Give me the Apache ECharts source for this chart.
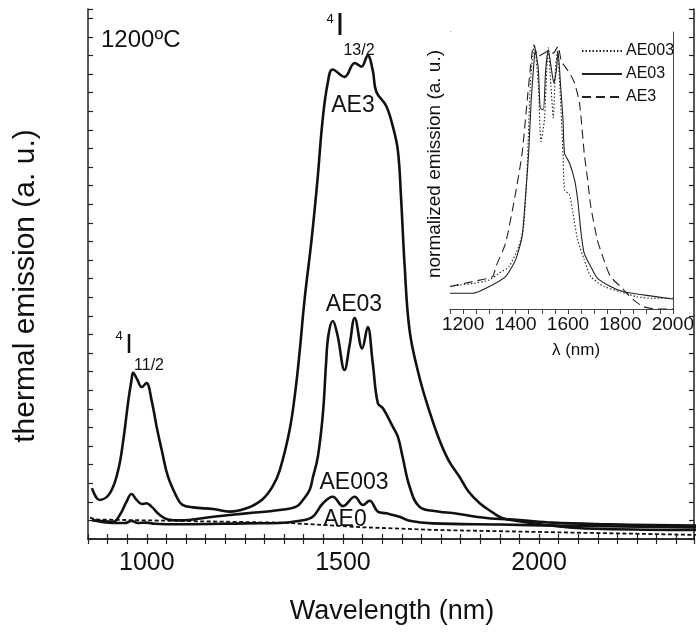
<!DOCTYPE html>
<html>
<head>
<meta charset="utf-8">
<script src="https://cdn.jsdelivr.net/npm/echarts@6/dist/echarts.min.js"></script>
<style>html,body{margin:0;padding:0;background:#fff;}#c{width:697px;height:637px;}</style>
</head>
<body>
<div id="c"></div>
<script>
// ---------- main chart data (wavelength nm, thermal emission a.u.) ----------
const ae3Wl  = [860,880,906,927,940,953,961,965,975,987,999,1012,1025,1038,1054,1076,1090,1118,1169,1211,1254,1293,1320,1339,1364,1379,1390,1402,1420,1435,1448,1461,1474,1504,1530,1547,1563,1576,1585,1610,1627,1640,1648,1657,1670,1695,1720,1746,1770,1797,1820,1848,1880,1906,1950,2000,2077,2161,2400];
const ae3Val = [2.74,2.10,2.47,3.71,5.32,7.47,8.55,8.94,8.60,8.17,8.39,7.47,6.04,4.78,3.35,2.27,1.85,1.70,1.61,1.47,1.65,2.10,2.80,3.71,5.86,8.01,10.16,12.85,16.1,19.3,22.5,24.5,25.25,24.85,25.6,25.4,26.0,25.2,24.05,23.3,22.2,20.9,18.4,14.8,11.2,8.7,6.9,5.32,4.2,3.35,2.55,1.94,1.45,1.13,0.95,0.80,0.62,0.54,0.48];

const ae03Wl  = [860,914,931,948,961,974,987,999,1012,1033,1054,1084,1169,1254,1339,1381,1398,1415,1423,1436,1449,1457,1463,1474,1486,1504,1517,1530,1549,1563,1576,1589,1602,1627,1640,1652,1670,1695,1746,1779,1866,1950,2034,2153,2400];
const ae03Val = [1.02,0.93,1.29,2.00,2.42,2.10,1.88,1.92,1.74,1.29,1.05,1.00,1.20,1.38,1.56,1.74,2.10,2.63,3.28,4.42,6.77,9.46,10.97,11.72,10.97,9.09,10.43,11.88,10.25,11.40,9.45,7.30,7.03,6.04,5.50,4.42,2.81,1.74,1.47,1.40,1.13,1.02,0.88,0.80,0.72];

const ae003Wl  = [860,914,944,961,977,999,1020,1084,1254,1339,1390,1423,1449,1474,1500,1530,1551,1568,1589,1610,1644,1670,1729,1899,2051,2400];
const ae003Val = [1.02,0.86,0.86,0.97,0.86,0.88,0.82,0.79,0.84,0.86,0.98,1.20,1.92,2.27,1.77,2.27,1.83,2.06,1.47,1.38,1.20,0.98,0.84,0.78,0.72,0.62];

const ae0Wl  = [855,870,1084,1339,1423,1550,1746,2000,2400];
const ae0Val = [1.15,1.05,0.97,0.88,0.79,0.63,0.48,0.38,0.22];

// ---------- inset data (normalized emission) ----------
const inAe003Wl  = [1150,1187,1237,1300,1337,1375,1412,1431,1444,1456,1465,1472,1487,1497,1510,1519,1525,1535,1544,1552,1560,1569,1581,1587,1606,1619,1637,1662,1687,1737,1800,1862,1925,2000];
const inAe003Val = [0.086,0.092,0.098,0.111,0.137,0.162,0.239,0.316,0.533,0.852,0.967,1.011,0.852,0.641,0.724,0.916,1.0,0.852,0.731,0.916,0.987,0.852,0.596,0.456,0.437,0.367,0.264,0.188,0.124,0.086,0.066,0.047,0.041,0.041];

const inAe03Wl  = [1150,1237,1287,1362,1400,1425,1437,1450,1459,1469,1475,1487,1494,1506,1515,1525,1537,1546,1556,1562,1572,1581,1587,1606,1625,1637,1650,1662,1687,1712,1762,1812,1887,2000];
const inAe03Val = [0.060,0.060,0.079,0.124,0.188,0.277,0.418,0.596,0.788,0.928,0.992,0.916,0.769,0.762,0.916,0.992,0.916,0.865,0.916,0.987,0.852,0.724,0.596,0.558,0.494,0.418,0.290,0.213,0.162,0.118,0.086,0.066,0.054,0.038];

const inAe3Wl  = [1150,1237,1312,1325,1362,1400,1425,1447,1456,1469,1487,1525,1544,1562,1575,1606,1625,1644,1662,1675,1687,1712,1737,1762,1800,1850,1887,1937,2000];
const inAe3Val = [0.086,0.105,0.124,0.162,0.252,0.443,0.596,0.826,0.916,1.011,0.967,0.987,0.979,1.005,0.948,0.903,0.865,0.788,0.596,0.494,0.392,0.264,0.188,0.124,0.086,0.035,0.009,0.0,0.0];

// ---------- axis tick label sets ----------
const mainTickLabels  = [1000, 1500, 2000];
const insetTickLabels = [1200, 1400, 1600, 1800, 2000];

const zip = (xs, ys) => xs.map((x, i) => [x, ys[i]]);
const FONT = "'Liberation Sans', Arial, Helvetica, sans-serif";
const INK = '#111';

const chart = echarts.init(document.getElementById('c'), null, {renderer: 'canvas'});

const frame = {show: true, lineStyle: {color: '#222', width: 1.5}};
const tickIn = {show: true, inside: true, length: 5, lineStyle: {color: '#222', width: 1.2}};
const insetFrame = {show: true, lineStyle: {color: '#444', width: 1}};
const insetTick = {show: true, inside: true, length: 5, lineStyle: {color: '#444', width: 1}};

const mainLine = (name, wl, val, extra) => Object.assign({
  name, type: 'line', xAxisIndex: 0, yAxisIndex: 0, data: zip(wl, val),
  symbol: 'none', smooth: 0.4, z: 3,
  lineStyle: {color: INK, width: 2.6}
}, extra || {});

const insetLine = (name, wl, val, type) => ({
  name, type: 'line', xAxisIndex: 2, yAxisIndex: 2, data: zip(wl, val),
  symbol: 'none', smooth: 0.2, z: 4,
  itemStyle: {color: '#222'},
  lineStyle: {color: '#222', width: 1.1, type}
});

const option = {
  animation: false,
  backgroundColor: '#fff',
  grid: [
    {left: 88, top: 9, width: 607, height: 530, show: false},
    {left: 450, top: 32, width: 226, height: 277, show: true, backgroundColor: '#fff', borderWidth: 0, z: 1}
  ],
  xAxis: [
    {gridIndex: 0, type: 'value', min: 850, max: 2395, interval: 50,
     axisLine: frame, axisTick: tickIn, splitLine: {show: false},
     axisLabel: {margin: 12, fontSize: 25, color: INK, fontFamily: FONT,
       formatter: v => mainTickLabels.includes(v) ? String(v) : ''}},
    {gridIndex: 0, type: 'value', position: 'top', min: 850, max: 2395, interval: 50,
     axisLine: frame, axisTick: tickIn, splitLine: {show: false}, axisLabel: {show: false}},
    {gridIndex: 1, type: 'value', min: 1150, max: 2000, interval: 50,
     axisLine: insetFrame, axisTick: insetTick, splitLine: {show: false},
     axisLabel: {margin: 6, fontSize: 19, color: INK, fontFamily: FONT,
       formatter: v => insetTickLabels.includes(v) ? String(v) : ''}},
    {gridIndex: 1, type: 'value', position: 'top', min: 1150, max: 2000, interval: 50,
     axisLine: insetFrame, axisTick: insetTick, splitLine: {show: false}, axisLabel: {show: false}}
  ],
  yAxis: [
    {gridIndex: 0, type: 'value', min: 0, max: 28.5, interval: 1,
     axisLine: frame, axisTick: tickIn, axisLabel: {show: false}, splitLine: {show: false}},
    {gridIndex: 0, type: 'value', position: 'right', min: 0, max: 28.5, interval: 1,
     axisLine: frame, axisTick: tickIn, axisLabel: {show: false}, splitLine: {show: false}},
    {gridIndex: 1, type: 'value', min: 0, max: 1.06,
     axisLine: insetFrame, axisTick: {show: false}, axisLabel: {show: false}, splitLine: {show: false}},
    {gridIndex: 1, type: 'value', position: 'right', min: 0, max: 1.06,
     axisLine: insetFrame, axisTick: {show: false}, axisLabel: {show: false}, splitLine: {show: false}}
  ],
  legend: {
    data: ['AE003', 'AE03', 'AE3'], orient: 'vertical', left: 576, top: 38,
    itemWidth: 40, itemHeight: 14, itemGap: 7, selectedMode: false,
    itemStyle: {opacity: 0},
    textStyle: {fontSize: 16, color: INK, fontFamily: FONT, padding: [0, 0, 0, -1]}
  },
  series: [
    mainLine('AE3 main', ae3Wl, ae3Val),
    mainLine('AE03 main', ae03Wl, ae03Val),
    mainLine('AE003 main', ae003Wl, ae003Val),
    mainLine('AE0 main', ae0Wl, ae0Val, {smooth: false, lineStyle: {color: INK, width: 1.8, type: [4, 2.5]}}),
    insetLine('AE003', inAe003Wl, inAe003Val, [1.5, 2]),
    insetLine('AE03', inAe03Wl, inAe03Val, 'solid'),
    insetLine('AE3', inAe3Wl, inAe3Val, [9, 5])
  ],
  graphic: [
    {type: 'text', x: 392, y: 612, style: {text: 'Wavelength (nm)', fontSize: 27, fontFamily: FONT, fill: INK, align: 'center', verticalAlign: 'middle'}},
    {type: 'text', x: 26, y: 286, rotation: Math.PI / 2, style: {text: 'thermal emission (a. u.)', fontSize: 30, fontFamily: FONT, fill: INK, align: 'center', verticalAlign: 'middle'}},
    {type: 'text', x: 435, y: 164, rotation: Math.PI / 2, z: 10, style: {text: 'normalized emission (a. u.)', fontSize: 19, fontFamily: FONT, fill: INK, align: 'center', verticalAlign: 'middle'}},
    {type: 'text', x: 576, y: 350, style: {text: 'λ (nm)', fontSize: 17, fontFamily: FONT, fill: INK, align: 'center', verticalAlign: 'middle'}},
    {type: 'text', x: 101, y: 40, style: {text: '1200ºC', fontSize: 24, fontFamily: FONT, fill: INK, align: 'left', verticalAlign: 'middle'}},
    {type: 'text', x: 353, y: 106, style: {text: 'AE3', fontSize: 23, fontFamily: FONT, fill: INK, align: 'center', verticalAlign: 'middle'}},
    {type: 'text', x: 354, y: 305, style: {text: 'AE03', fontSize: 23, fontFamily: FONT, fill: INK, align: 'center', verticalAlign: 'middle'}},
    {type: 'text', x: 354, y: 483, style: {text: 'AE003', fontSize: 23, fontFamily: FONT, fill: INK, align: 'center', verticalAlign: 'middle'}},
    {type: 'text', x: 345, y: 520, style: {text: 'AE0', fontSize: 23, fontFamily: FONT, fill: INK, align: 'center', verticalAlign: 'middle'}},
    {type: 'text', x: 330, y: 19, style: {text: '4', fontSize: 13, fontFamily: FONT, fill: INK, align: 'center', verticalAlign: 'middle'}},
    {type: 'text', x: 340, y: 26, style: {text: 'I', fontSize: 32, fontFamily: FONT, fill: INK, align: 'center', verticalAlign: 'middle'}},
    {type: 'text', x: 359, y: 51, style: {text: '13/2', fontSize: 16, fontFamily: FONT, fill: INK, align: 'center', verticalAlign: 'middle'}},
    {type: 'text', x: 119, y: 336, style: {text: '4', fontSize: 13, fontFamily: FONT, fill: INK, align: 'center', verticalAlign: 'middle'}},
    {type: 'text', x: 129, y: 346, style: {text: 'I', fontSize: 27, fontFamily: FONT, fill: INK, align: 'center', verticalAlign: 'middle'}},
    {type: 'text', x: 149, y: 366, style: {text: '11/2', fontSize: 16, fontFamily: FONT, fill: INK, align: 'center', verticalAlign: 'middle'}}
  ]
};
chart.setOption(option);
</script>
</body>
</html>
